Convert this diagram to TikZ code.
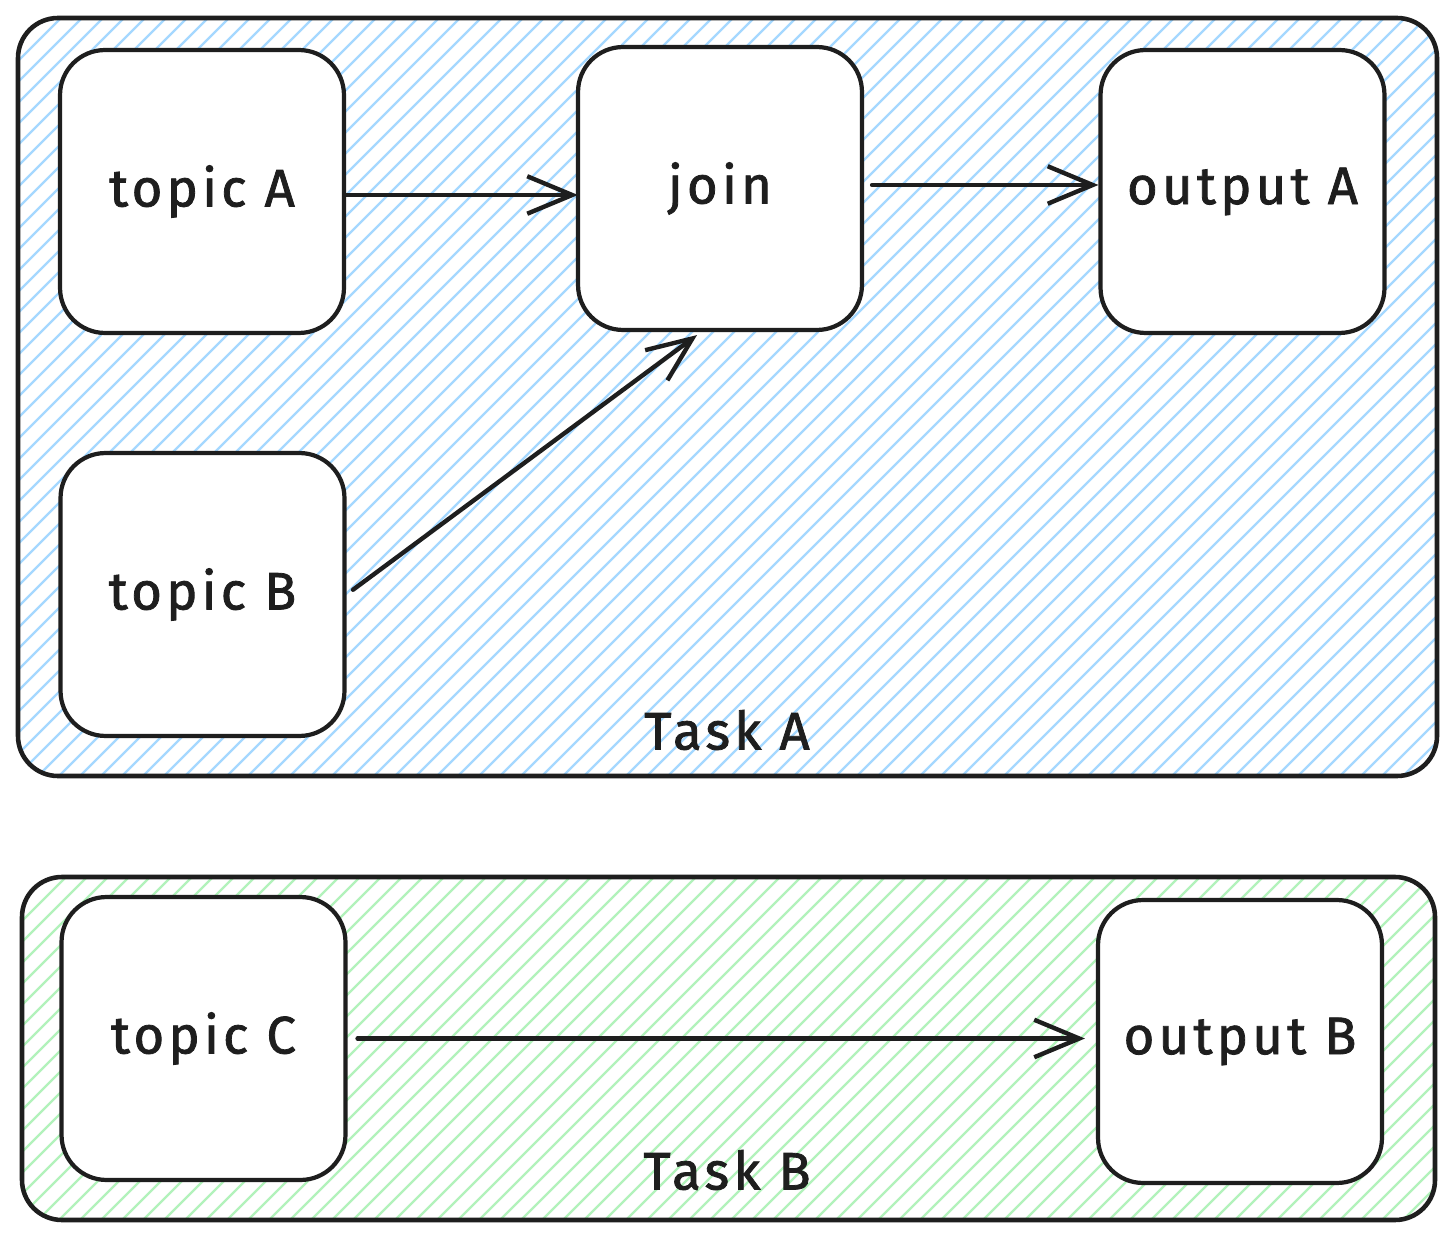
\documentclass[tikz,border=0pt]{standalone}
\usepackage{fontspec}
\setmainfont{Fira Sans}[LetterSpace=8, FakeBold=1.5]
\usetikzlibrary{arrows.meta}
\definecolor{hatchblue}{HTML}{A5D8FF}
\definecolor{hatchgreen}{HTML}{B2F2BB}
\definecolor{ink}{HTML}{1E1E1E}
\tikzset{
  frame/.style={draw=ink, line width=2.6pt, rounded corners=0.8cm},
  hatch/.style={line width=1.3pt},
  box/.style={draw=ink, fill=white, line width=2.4pt, rounded corners=0.9cm,
    minimum width=5.68cm, minimum height=5.66cm, inner sep=0pt, font=\fontsize{30}{34}\selectfont, text=ink},
  lbl/.style={font=\fontsize{30}{34}\selectfont, text=ink},
  conn/.style={draw=ink, line width=2.5pt, line cap=round,
    -{Straight Barb[length=0.9cm, width=0.75cm, line width=2.5pt]}},
}
\begin{document}
\begin{tikzpicture}[x=0.02cm, y=-0.02cm]
\useasboundingbox (0,0) rectangle (1456,1239);
\fill[white] (0,0) rectangle (1456,1239);
% hatched frame fills
\begin{scope}
  \clip[rounded corners=0.8cm] (18,18) rectangle (1437,776);
  \foreach \k in {0,...,106} {
    \draw[hatch, hatchblue] ({-760+21*\k},776) -- ++(758,-758);
  }
\end{scope}
\begin{scope}
  \clip[rounded corners=0.8cm] (22,877) rectangle (1435,1220);
  \foreach \k in {0,...,86} {
    \draw[hatch, hatchgreen] ({-340+21*\k},1220) -- ++(343,-343);
  }
\end{scope}
\draw[frame] (18,18) rectangle (1437,776);
\draw[frame] (22,877) rectangle (1435,1220);
% nodes
\node[box] (tA) at (202,191.5) {topic A};
\node[box] (join) at (720,188.5) {join};
\node[box] (oA) at (1242.5,191.5) {output A};
\node[box] (tB) at (202.5,594.5) {topic B};
\node[box] (tC) at (203.5,1038.5) {topic C};
\node[box] (oB) at (1240,1041.5) {output B};
\node[lbl] (taskA) at (727,730) {Task A};
\node[lbl] (taskB) at (727,1170) {Task B};
% connectors
\draw[conn] ([yshift=-0.07cm]tA.east) -- ([xshift=0.04cm,yshift=-0.07cm]join.west |- tA.east);
\draw[conn, shorten <=0.16cm] ([yshift=0.07cm]join.east) -- ([yshift=0.07cm]oA.west |- join.east);
\draw[conn, shorten <=0.16cm] (tB.east) -- ([xshift=-0.46cm,yshift=-0.06cm]join.south);
\draw[conn, shorten <=0.2cm, shorten >=0.22cm] (tC.east) -- (oB.west |- tC.east);
\end{tikzpicture}
\end{document}
